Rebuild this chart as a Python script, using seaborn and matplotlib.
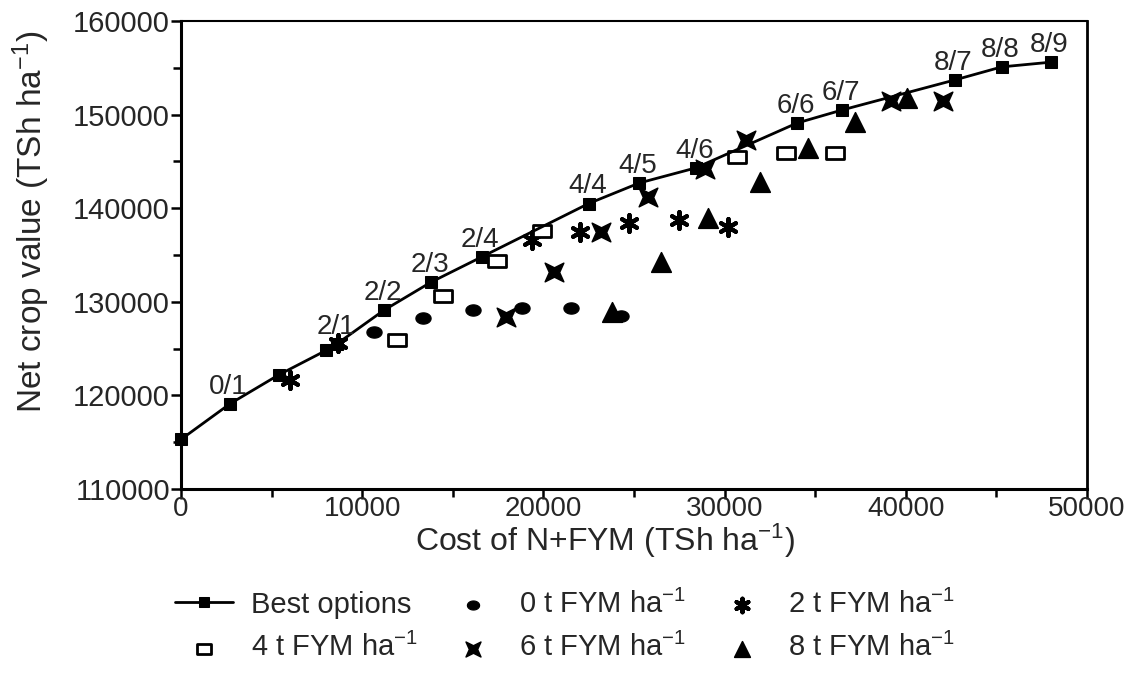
import numpy as np
import pandas as pd
import matplotlib
matplotlib.use("Agg")
import matplotlib.pyplot as plt
from matplotlib.path import Path
import seaborn as sns

# ---------------- data ----------------
best_cost = [0, 2700, 5400, 8000, 8600, 11200, 13800, 16600, 22500, 25300,
             28400, 34000, 36500, 42700, 45300, 48000]
best_value = [115300, 119100, 122200, 124800, 125500, 129100, 132100, 134800,
              140500, 142700, 144300, 149100, 150500, 153700, 155100, 155600]
best_labels = ["", "0/1", "", "", "2/1", "2/2", "2/3", "2/4", "4/4", "4/5",
               "4/6", "6/6", "6/7", "8/7", "8/8", "8/9"]

fym0_cost = [10650, 13360, 16100, 18800, 21500, 24300]
fym0_value = [126800, 128300, 129100, 129300, 129300, 128500]

fym2_cost = [6000, 8660, 19370, 22000, 24700, 27500, 30200]
fym2_value = [121650, 125600, 136600, 137460, 138400, 138700, 138000]

fym4_cost = [11900, 14460, 17440, 19920, 30700, 33400, 36100]
fym4_value = [125900, 130600, 134400, 137600, 145500, 145900, 145900]

fym6_cost = [17940, 20600, 23200, 25800, 28900, 31200, 39200, 42050]
fym6_value = [128400, 133200, 137500, 141200, 144200, 147300, 151400, 151500]

fym8_cost = [23800, 26500, 29100, 31950, 34600, 37200, 40070]
fym8_value = [128900, 134250, 138950, 142800, 146400, 149200, 151800]

x_ticks = [0, 10000, 20000, 30000, 40000, 50000]
y_ticks = [110000, 120000, 130000, 140000, 150000, 160000]

legend_labels = ["Best options", r"0 t FYM ha$^{-1}$", r"2 t FYM ha$^{-1}$",
                 r"4 t FYM ha$^{-1}$", r"6 t FYM ha$^{-1}$", r"8 t FYM ha$^{-1}$"]

# ---------------- style ----------------
sns.set_theme(style="ticks")
plt.rcParams["font.family"] = ["Liberation Sans", "DejaVu Sans"]
plt.rcParams["mathtext.fontset"] = "custom"
plt.rcParams["mathtext.rm"] = "Liberation Sans"
plt.rcParams["mathtext.it"] = "Liberation Sans"
plt.rcParams["mathtext.default"] = "regular"

fig = plt.figure(figsize=(11.35, 6.76), dpi=100)
ax = fig.add_axes([181 / 1135, 1 - 489 / 676, (1087 - 181) / 1135, (489 - 21) / 676])

# custom markers
t = np.linspace(0, 2 * np.pi, 40)
ellipse = Path(np.column_stack([1.35 * np.cos(t), np.sin(t)]), closed=True)
rect = Path([(-1.35, -1), (1.35, -1), (1.35, 1), (-1.35, 1), (-1.35, -1)], closed=True)
bowtie = Path([(-1, -1), (0, -0.5), (1, -1), (0.55, 0), (1, 1), (0, 0.5),
               (-1, 1), (-0.55, 0), (-1, -1)], closed=True)

# best options line
best_df = pd.DataFrame({"cost": best_cost, "value": best_value})
sns.lineplot(data=best_df, x="cost", y="value", ax=ax, color="black", lw=2,
             marker="s", markersize=9, markeredgecolor="black",
             markerfacecolor="black", label=legend_labels[0], clip_on=False,
             zorder=5)

sns.scatterplot(x=fym0_cost, y=fym0_value, ax=ax, marker=ellipse, s=120,
                color="black", edgecolor="black", label=legend_labels[1], zorder=4)
sns.scatterplot(x=fym2_cost, y=fym2_value, ax=ax, marker=(6, 2, 0), s=150,
                color="black", linewidth=3, label=legend_labels[2], zorder=4)
sns.scatterplot(x=fym4_cost, y=fym4_value, ax=ax, marker=rect, s=150,
                facecolor="white", edgecolor="black", linewidth=2,
                label=legend_labels[3], zorder=4)
sns.scatterplot(x=fym6_cost, y=fym6_value, ax=ax, marker=bowtie, s=180,
                color="black", edgecolor="black", label=legend_labels[4], zorder=4)
sns.scatterplot(x=fym8_cost, y=fym8_value, ax=ax, marker="^", s=200,
                color="black", edgecolor="black", label=legend_labels[5], zorder=4)

for xc, yv, lab in zip(best_cost, best_value, best_labels):
    if lab:
        ax.annotate(lab, (xc, yv), xytext=(-1, 3), textcoords="offset points",
                    ha="center", va="bottom", fontsize=20, zorder=6)

ax.set_xlim(0, 50000)
ax.set_ylim(110000, 160000)
ax.set_xticks(x_ticks)
ax.set_yticks(y_ticks)
ax.set_xticks(np.arange(5000, 50000, 10000), minor=True)
ax.set_yticks(np.arange(115000, 160000, 10000), minor=True)
ax.ticklabel_format(useOffset=False, style="plain")
ax.tick_params(axis="both", which="major", labelsize=21, length=7, width=1.8,
               direction="out", color="black", pad=1)
ax.tick_params(axis="x", which="major", labelsize=20, pad=-2)
ax.tick_params(axis="both", which="minor", length=6, width=1.8, direction="out",
               color="black")
for side in ["left", "bottom", "top", "right"]:
    ax.spines[side].set_visible(True)
    ax.spines[side].set_color("black")
ax.spines["left"].set_linewidth(2.2)
ax.spines["bottom"].set_linewidth(2.2)
ax.spines["top"].set_linewidth(1.5)
ax.spines["right"].set_linewidth(2.0)

ax.set_xlabel(r"Cost of N+FYM (TSh ha$^{-1}$)", fontsize=23)
ax.set_ylabel(r"Net crop value (TSh ha$^{-1}$)", fontsize=24)
ax.xaxis.set_label_coords((605 - 181) / 906, -(522 - 489) / 468)
ax.yaxis.set_label_coords((52 - 181) / 906, 1 - (222 - 21) / 468)

handles, labels = ax.get_legend_handles_labels()
order = [0, 3, 1, 4, 2, 5]
ax.legend([handles[i] for i in order], [labels[i] for i in order], ncol=3,
          loc="center", bbox_to_anchor=(565 / 1135, 1 - 626 / 676),
          bbox_transform=fig.transFigure, frameon=False, fontsize=21,
          handlelength=2.0, columnspacing=0.9, handletextpad=0.6,
          labelspacing=0.5, borderpad=0, markerscale=0.8)

fig.savefig("out.png", dpi=100)
